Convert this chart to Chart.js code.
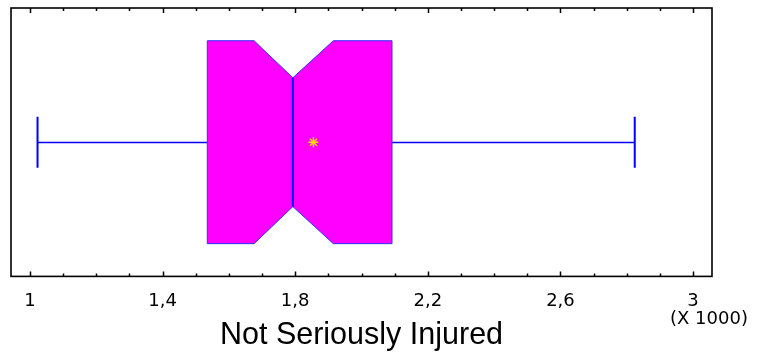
<!DOCTYPE html>
<html>
<head>
<meta charset="utf-8">
<title>Not Seriously Injured</title>
<script src="https://cdn.jsdelivr.net/npm/chart.js@4/dist/chart.umd.min.js"></script>
<style>
  html, body { margin: 0; padding: 0; background: #fff; }
  canvas { display: block; }
</style>
</head>
<body>
<canvas id="chart" width="759" height="352"></canvas>
<script>
// Box-plot summary of the "Not Seriously Injured" counts
const summaryKeys   = ['min', 'q1', 'median', 'q3', 'max'];
const summaryValues = [1023, 1535, 1793, 2092, 2824];
const notchBounds   = [1676, 1915];   // lower / upper notch around the median
const meanValue     = [1855];

// Axis ticks (values in raw units, labelled in thousands)
const majorTicks = [1000, 1400, 1800, 2200, 2600, 3000];
const minorTicks = [1100, 1200, 1300, 1500, 1600, 1700, 1900, 2000, 2100,
                    2300, 2400, 2500, 2700, 2800, 2900];
const axisRange  = [943, 3057];

const axisTitle  = 'Not Seriously Injured';
const scaleNote  = '(X 1000)';

const TITLE_FONT = '"Liberation Sans", Arial, Helvetica, sans-serif';
const TICK_FONT  = '"DejaVu Sans", Verdana, sans-serif';

// Vertical proportions of the box inside the plot area (y runs 0..1)
const BOX_HALF   = 0.378;
const NOTCH_HALF = 0.240;
const CAP_HALF   = 0.095;

const stats = {};
summaryKeys.forEach((k, i) => stats[k] = summaryValues[i]);

const boxPlugin = {
  id: 'notchedBox',
  beforeDatasetsDraw(chart) {
    const { ctx } = chart;
    const xs = chart.scales.x, ys = chart.scales.y;
    const X = v => xs.getPixelForValue(v);
    const Y = v => ys.getPixelForValue(v);
    const yc = Math.round(Y(0.5)) + 0.5;
    ctx.save();

    // whiskers
    ctx.strokeStyle = '#0000ff';
    ctx.lineWidth = 1.3;
    ctx.beginPath();
    ctx.moveTo(X(stats.min), yc); ctx.lineTo(X(stats.q1), yc);
    ctx.moveTo(X(stats.q3), yc); ctx.lineTo(X(stats.max), yc);
    ctx.stroke();
    ctx.lineWidth = 2;
    ctx.beginPath();
    ctx.moveTo(X(stats.min), Y(0.5 + CAP_HALF)); ctx.lineTo(X(stats.min), Y(0.5 - CAP_HALF));
    ctx.moveTo(X(stats.max), Y(0.5 + CAP_HALF)); ctx.lineTo(X(stats.max), Y(0.5 - CAP_HALF));
    ctx.stroke();

    // notched box
    const top = Y(0.5 + BOX_HALF), bot = Y(0.5 - BOX_HALF);
    const nTop = Y(0.5 + NOTCH_HALF), nBot = Y(0.5 - NOTCH_HALF);
    ctx.beginPath();
    ctx.moveTo(X(stats.q1), top);
    ctx.lineTo(X(notchBounds[0]), top);
    ctx.lineTo(X(stats.median), nTop);
    ctx.lineTo(X(notchBounds[1]), top);
    ctx.lineTo(X(stats.q3), top);
    ctx.lineTo(X(stats.q3), bot);
    ctx.lineTo(X(notchBounds[1]), bot);
    ctx.lineTo(X(stats.median), nBot);
    ctx.lineTo(X(notchBounds[0]), bot);
    ctx.lineTo(X(stats.q1), bot);
    ctx.closePath();
    ctx.fillStyle = '#ff00ff';
    ctx.fill();
    ctx.lineWidth = 1;
    ctx.strokeStyle = '#3030ff';
    ctx.stroke();

    // median
    ctx.lineWidth = 2;
    ctx.strokeStyle = '#0000ff';
    ctx.beginPath();
    ctx.moveTo(X(stats.median), nTop);
    ctx.lineTo(X(stats.median), nBot);
    ctx.stroke();
    ctx.restore();
  },
  afterDraw(chart) {
    const { ctx, chartArea: a } = chart;
    const xs = chart.scales.x;
    ctx.save();
    // frame
    ctx.strokeStyle = '#000';
    ctx.lineWidth = 1.6;
    ctx.strokeRect(a.left, a.top, a.right - a.left, a.bottom - a.top);
    // inward tick marks on top and bottom edges
    const mark = (v, len) => {
      const x = Math.round(xs.getPixelForValue(v)) + 0.5;
      ctx.moveTo(x, a.bottom); ctx.lineTo(x, a.bottom - len);
      ctx.moveTo(x, a.top);    ctx.lineTo(x, a.top + len);
    };
    ctx.lineWidth = 1.5;
    ctx.beginPath();
    majorTicks.forEach(v => mark(v, 5));
    minorTicks.forEach(v => mark(v, 3));
    ctx.stroke();

    ctx.fillStyle = '#000';
    ctx.textBaseline = 'alphabetic';
    ctx.textAlign = 'center';
    // axis title
    ctx.font = '30.5px ' + TITLE_FONT;
    ctx.fillText(axisTitle, (a.left + a.right) / 2, 344);
    // scale multiplier note
    ctx.font = '18px ' + TICK_FONT;
    ctx.fillText(scaleNote, xs.getPixelForValue(axisRange[1]) - 3, 324);
    ctx.restore();
  }
};

new Chart(document.getElementById('chart'), {
  type: 'scatter',
  data: {
    datasets: [{
      label: 'Mean',
      data: meanValue.map(v => ({ x: v, y: 0.5 })),
      pointStyle: 'star',
      radius: 5,
      borderWidth: 1.5,
      borderColor: '#ffd800',
      backgroundColor: '#ffa000'
    }]
  },
  options: {
    responsive: false,
    animation: false,
    events: [],
    layout: { padding: { left: 11, right: 47, top: 8, bottom: 26 } },
    plugins: { legend: { display: false }, tooltip: { enabled: false } },
    scales: {
      x: {
        type: 'linear',
        min: axisRange[0],
        max: axisRange[1],
        afterBuildTicks: s => { s.ticks = majorTicks.map(v => ({ value: v })); },
        grid: { display: false, drawTicks: false },
        border: { display: false },
        ticks: {
          padding: 14,
          color: '#000',
          font: { family: TICK_FONT, size: 18 },
          maxRotation: 0,
          autoSkip: false,
          callback: v => String(v / 1000).replace('.', ',')
        },
        title: { display: false }
      },
      y: { display: false, min: 0, max: 1 }
    }
  },
  plugins: [boxPlugin]
});
</script>
</body>
</html>
